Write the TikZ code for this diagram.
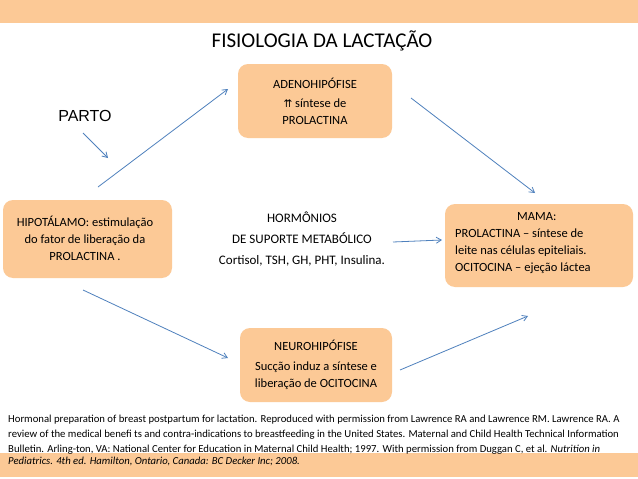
\documentclass[tikz,border=0pt]{standalone}
\usepackage{fontspec}
\setmainfont{Carlito}
\newfontfamily\arialf{Liberation Sans}
\newfontfamily\symf{DejaVu Sans}
\usetikzlibrary{arrows.meta}
\definecolor{boxor}{RGB}{252,201,150}
\definecolor{arrblue}{RGB}{79,129,189}
\tikzset{
  obox/.style={fill=boxor, draw=none, rounded corners=10pt, inner sep=0pt},
  btext/.style={font=\fontsize{12.5}{16}\selectfont, align=center, inner sep=0pt},
  conn/.style={draw=arrblue, line width=0.8pt, -{Straight Barb[length=5pt,width=6pt]}},
}
\begin{document}
\begin{tikzpicture}[x=1pt,y=-1pt]
\useasboundingbox (0,0) rectangle (638,479);
\fill[white] (0,0) rectangle (638,479);
\fill[boxor] (0,0) rectangle (638,23);
\fill[boxor] (0,453) rectangle (638,477);
\node[font=\fontsize{21}{24}\selectfont] (title) at (322,41) {FISIOLOGIA DA LACTAÇÃO};
\node[font=\arialf\fontsize{16}{18}\selectfont] (parto) at (85,116) {PARTO};
% boxes
\node[obox, minimum width=154pt, minimum height=74pt] (adeno) at (315,101) {};
\node[btext] (adenot) at (315,83) {ADENOHIPÓFISE};
\node[btext, font=\fontsize{12.5}{17}\selectfont, anchor=north] (adenot2) at (315,99) {{\symf\fontsize{10.5}{11}\selectfont ⇈} síntese de\\PROLACTINA};
\node[obox, minimum width=169pt, minimum height=78pt] (hipo) at (87.5,239) {};
\node[btext, font=\fontsize{12.5}{17}\selectfont] (hipot) at (85,238) {HIPOTÁLAMO: estimulação\\do fator de liberação da\\PROLACTINA .};
\node[obox, minimum width=188pt, minimum height=83pt] (mama) at (539,245.5) {};
\node[btext, font=\fontsize{12.5}{17}\selectfont, align=left, anchor=north west] (mamat) at (455,212) {\hspace*{62pt}MAMA:\\PROLACTINA – síntese de\\leite nas células epiteliais.\\OCITOCINA – ejeção láctea};
\node[obox, minimum width=152pt, minimum height=74pt] (neuro) at (316,365) {};
\node[btext] (neurot) at (316,345) {NEUROHIPÓFISE};
\node[btext, font=\fontsize{12.5}{17}\selectfont, anchor=north] (neurot2) at (316,362) {Sucção induz a síntese e\\liberação de OCITOCINA};
% center text
\node[font=\fontsize{13}{21}\selectfont, align=center] (horm) at (302,239) {HORMÔNIOS\\DE SUPORTE METABÓLICO\\Cortisol, TSH, GH, PHT, Insulina.};
% connector endpoints
\coordinate (p1) at (83,133); \coordinate (p2) at (108,158);
\coordinate (a1) at (98,187); \coordinate (a2) at (228,89);
\coordinate (b1) at (411,98); \coordinate (b2) at (535,193);
\coordinate (c1) at (83,290); \coordinate (c2) at (228,358);
\coordinate (d1) at (400,370); \coordinate (d2) at (528,316);
\coordinate (e1) at (393,242); \coordinate (e2) at (442,240);
\draw[conn] (p1) -- (p2);
\draw[conn] (a1) -- (a2);
\draw[conn] (b1) -- (b2);
\draw[conn] (c1) -- (c2);
\draw[conn] (d1) -- (d2);
\draw[conn] (e1) -- (e2);
% reference text
\node[anchor=north west, align=left, font=\fontsize{10.7}{15}\selectfont, inner sep=0pt] (ref) at (8,415) {Hormonal preparation of breast postpartum for lactation. Reproduced with permission from Lawrence RA and Lawrence RM. Lawrence RA. A\\review of the medical benefi ts and contra-indications to breastfeeding in the United States. Maternal and Child Health Technical Information\\Bulletin. Arling-ton, VA: National Center for Education in Maternal Child Health; 1997. With permission from Duggan C, et al. \textit{Nutrition in}\\[-3pt]\textit{Pediatrics. 4th ed. Hamilton, Ontario, Canada: BC Decker Inc; 2008.}};
\end{tikzpicture}
\end{document}
